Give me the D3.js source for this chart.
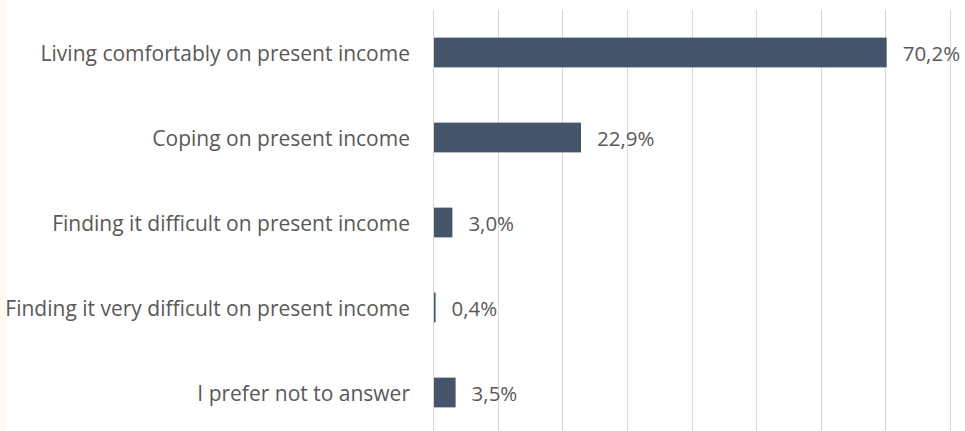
<!DOCTYPE html>
<html>
<head>
<meta charset="utf-8">
<script src="https://cdn.jsdelivr.net/npm/d3@7"></script>
<style>
  html, body { margin: 0; padding: 0; background: #ffffff; }
  svg { display: block; }
  text { font-family: "Open Sans", "Liberation Sans", sans-serif; fill: #595959; }
</style>
</head>
<body>
<script>
// Survey answers: how respondents feel about their household income
const categories = [
  "Living comfortably on present income",
  "Coping on present income",
  "Finding it difficult on present income",
  "Finding it very difficult on present income",
  "I prefer not to answer"
];
const values = [70.2, 22.9, 3.0, 0.4, 3.5];
const valueLabels = ["70,2%", "22,9%", "3,0%", "0,4%", "3,5%"];
const gridTicks = [0, 10, 20, 30, 40, 50, 60, 70, 80];

const W = 965, H = 431;
const svg = d3.select("body").append("svg").attr("width", W).attr("height", H);

// faint cream strip along the left edge
svg.append("rect").attr("x", 0).attr("y", 0).attr("width", 6).attr("height", H)
  .attr("fill", "#fffaee");

const x = d3.scaleLinear().domain([0, 80]).range([433, 950]);
const y = d3.scaleBand().domain(categories).range([10, 435]).paddingInner(0.65).paddingOuter(0.325);

// vertical gridlines
svg.append("g").selectAll("line").data(gridTicks).join("line")
  .attr("x1", d => Math.round(x(d)) + 0.5).attr("x2", d => Math.round(x(d)) + 0.5)
  .attr("y1", 10).attr("y2", H)
  .attr("stroke", "#d9d9d9").attr("stroke-width", 1);

// bars
svg.append("g").selectAll("rect").data(values).join("rect")
  .attr("x", x(0) + 1)
  .attr("y", (d, i) => y(categories[i]))
  .attr("width", d => Math.max(1.5, x(d) - x(0) - 1))
  .attr("height", y.bandwidth())
  .attr("fill", "#44546a");

// category labels
svg.append("g").selectAll("text").data(categories).join("text")
  .attr("x", 410)
  .attr("y", d => y(d) + y.bandwidth() / 2)
  .attr("text-anchor", "end")
  .attr("dominant-baseline", "central")
  .attr("font-size", "21px")
  .text(d => d);

// value labels
svg.append("g").selectAll("text").data(values).join("text")
  .attr("x", d => x(d) + 16)
  .attr("y", (d, i) => y(categories[i]) + y.bandwidth() / 2)
  .attr("dominant-baseline", "central")
  .attr("font-size", "20.5px")
  .text((d, i) => valueLabels[i]);
</script>
</body>
</html>
